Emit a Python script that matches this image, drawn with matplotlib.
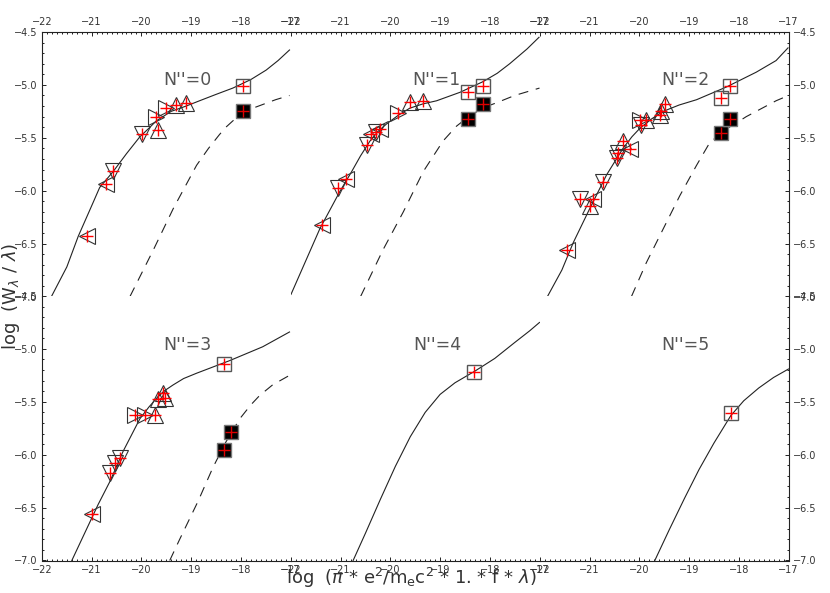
"""Curve-of-growth panels, N''=0..5, IDL-style 2x3 grid."""

import matplotlib
matplotlib.use("Agg")
import matplotlib.pyplot as plt
from matplotlib.ticker import MultipleLocator, FuncFormatter

# ---- model curves ---------------------------------------------------------
solid0_x = [-21.81, -21.50, -21.27, -20.97, -20.84, -20.57, -20.30, -20.03, -19.85, -19.70,
            -19.40, -19.10, -18.83, -18.50, -18.16, -17.80, -17.49, -17.25, -17.02]
solid0_y = [-7.00, -6.72, -6.43, -6.11, -5.97, -5.82, -5.65, -5.49, -5.41, -5.34,
            -5.25, -5.20, -5.15, -5.09, -5.03, -4.95, -4.86, -4.77, -4.67]
dash0_x = [-20.23, -19.76, -19.36, -18.89, -18.65, -18.43, -18.30, -18.16, -18.00, -17.70,
           -17.30, -17.02]
dash0_y = [-7.00, -6.56, -6.17, -5.76, -5.60, -5.47, -5.40, -5.34, -5.28, -5.21,
           -5.14, -5.10]

solid1_x = [-22.00, -21.42, -21.02, -20.78, -20.60, -20.41, -20.25, -20.08, -19.85, -19.61,
            -19.35, -19.07, -18.60, -18.14, -17.85, -17.60, -17.25, -17.01]
solid1_y = [-6.98, -6.36, -6.01, -5.82, -5.67, -5.53, -5.44, -5.37, -5.29, -5.22,
            -5.18, -5.15, -5.07, -4.97, -4.89, -4.80, -4.66, -4.55]
dash1_x = [-20.60, -20.15, -19.74, -19.34, -18.94, -18.67, -18.40, -18.10, -17.87,
           -17.50, -17.00]
dash1_y = [-7.00, -6.56, -6.20, -5.82, -5.53, -5.39, -5.29, -5.21, -5.17,
           -5.10, -5.03]

solid2_x = [-21.85, -21.56, -21.33, -21.00, -20.66, -20.33, -20.15, -19.99, -19.75, -19.52,
            -19.20, -18.85, -18.25, -17.65, -17.25, -17.01]
solid2_y = [-7.00, -6.75, -6.49, -6.17, -5.85, -5.60, -5.49, -5.41, -5.32, -5.25,
            -5.19, -5.14, -5.02, -4.88, -4.77, -4.65]
dash2_x = [-20.16, -19.86, -19.52, -19.19, -18.85, -18.59, -18.30, -18.05, -17.85, -17.65,
           -17.25, -17.05]
dash2_y = [-7.00, -6.68, -6.36, -6.05, -5.76, -5.55, -5.43, -5.36, -5.30, -5.25,
           -5.15, -5.11]

solid3_x = [-21.40, -20.87, -20.63, -20.37, -20.03, -19.85, -19.70, -19.55, -19.36, -19.15,
            -18.89, -18.22, -17.56, -17.02]
solid3_y = [-7.00, -6.47, -6.25, -5.97, -5.66, -5.55, -5.47, -5.40, -5.34, -5.28,
            -5.23, -5.11, -4.98, -4.84]
dash3_x = [-19.43, -19.23, -18.86, -18.56, -18.30, -18.02, -17.80, -17.62, -17.36, -17.02]
dash3_y = [-7.00, -6.80, -6.44, -6.12, -5.88, -5.66, -5.53, -5.44, -5.34, -5.25]

solid4_x = [-20.75, -20.50, -20.20, -19.90, -19.60, -19.30, -19.00, -18.70, -18.30,
            -17.90, -17.50, -17.20, -17.00]
solid4_y = [-7.00, -6.74, -6.42, -6.11, -5.83, -5.60, -5.43, -5.32, -5.21,
            -5.09, -4.94, -4.83, -4.75]

solid5_x = [-19.69, -19.40, -19.09, -18.80, -18.50, -18.16, -17.90, -17.60, -17.30, -17.00]
solid5_y = [-7.00, -6.71, -6.41, -6.14, -5.89, -5.63, -5.49, -5.37, -5.27, -5.19]

# ---- measured lines: x, y, symbol ('<','>','^','v' open triangles,
#      's' open square, 'S' filled square) --------------------------------
pts0_x = [-21.10, -20.71, -20.57, -19.98, -19.66, -19.71, -19.50, -19.30, -19.10, -17.96, -17.96]
pts0_y = [-6.43, -5.94, -5.815, -5.46, -5.43, -5.30, -5.22, -5.19, -5.17, -5.01, -5.25]
pts0_m = ['<', '<', 'v', 'v', '^', '>', '>', '^', '^', 's', 'S']

pts1_x = [-21.38, -21.05, -20.90, -20.48, -20.39, -20.29, -20.21, -19.85, -19.61, -19.34,
          -18.44, -18.14, -18.14, -18.44]
pts1_y = [-6.32, -5.975, -5.89, -5.57, -5.46, -5.445, -5.42, -5.27, -5.16, -5.15,
          -5.07, -5.01, -5.18, -5.32]
pts1_m = ['<', 'v', '<', 'v', '<', 'v', '<', '>', '^', '^', 's', 's', 'S', 'S']

pts2_x = [-21.46, -21.20, -21.00, -20.93, -20.73, -20.46, -20.43, -20.19, -20.32, -19.96,
          -19.99, -19.86, -19.59, -19.56, -19.49, -18.35, -18.18, -18.35, -18.18]
pts2_y = [-6.56, -6.08, -6.14, -6.08, -5.92, -5.69, -5.64, -5.61, -5.53, -5.375,
          -5.33, -5.33, -5.28, -5.25, -5.18, -5.12, -5.01, -5.455, -5.32]
pts2_m = ['<', 'v', '^', '<', 'v', 'v', 'v', '<', '^', 'v',
          '>', '^', '^', '^', '^', 's', 's', 'S', 'S']

pts3_x = [-21.00, -20.63, -20.53, -20.43, -20.13, -19.93, -19.73, -19.66, -19.56, -19.53,
          -18.33, -18.19, -18.33]
pts3_y = [-6.56, -6.17, -6.08, -6.03, -5.625, -5.625, -5.625, -5.47, -5.42, -5.46,
          -5.14, -5.79, -5.96]
pts3_m = ['<', 'v', 'v', 'v', '>', '>', '^', '^', '^', '^', 's', 'S', 'S']

pts4_x = [-18.31]
pts4_y = [-5.22]
pts4_m = ['s']

pts5_x = [-18.16]
pts5_y = [-5.61]
pts5_m = ['s']

labels = ["N''=0", "N''=1", "N''=2", "N''=3", "N''=4", "N''=5"]

solids = [(solid0_x, solid0_y), (solid1_x, solid1_y), (solid2_x, solid2_y),
          (solid3_x, solid3_y), (solid4_x, solid4_y), (solid5_x, solid5_y)]
dashes = [(dash0_x, dash0_y), (dash1_x, dash1_y), (dash2_x, dash2_y),
          (dash3_x, dash3_y), None, None]
points = [(pts0_x, pts0_y, pts0_m), (pts1_x, pts1_y, pts1_m), (pts2_x, pts2_y, pts2_m),
          (pts3_x, pts3_y, pts3_m), (pts4_x, pts4_y, pts4_m), (pts5_x, pts5_y, pts5_m)]

W, H = 830, 593
fig = plt.figure(figsize=(W / 100, H / 100), dpi=100)

col_left = [42, 291, 540]
col_w = 248.5
row_top = [32, 296]
row_h = 264.5

fmt_x = FuncFormatter(lambda v, p: "\u2212%d" % abs(round(v)))
fmt_y = FuncFormatter(lambda v, p: "\u2212%.1f" % abs(v))
tick_col = "#333333"

for i in range(6):
    r, c = divmod(i, 3)
    ax = fig.add_axes([col_left[c] / W, 1 - (row_top[r] + row_h) / H, col_w / W, row_h / H])
    ax.set_xlim(-22, -17)
    ax.set_ylim(-7.0, -4.5)

    sx, sy = solids[i]
    ax.plot(sx, sy, color="#222222", lw=0.8)
    if dashes[i] is not None:
        dx, dy = dashes[i]
        ax.plot(dx, dy, color="#222222", lw=0.8, linestyle=(0, (9, 7)))

    px, py, pm = points[i]
    for x, y, m in zip(px, py, pm):
        if m == 'S':
            ax.plot(x, y, marker='s', ms=10.5, mfc="black", mec="#777777", mew=1.0, zorder=3)
            ax.plot(x, y, marker='+', ms=9, color="#dd0000", mew=1.0, zorder=4)
        elif m == 's':
            ax.plot(x, y, marker='s', ms=10.5, mfc="none", mec="#555555", mew=1.0, zorder=3)
            ax.plot(x, y, marker='+', ms=9, color="red", mew=1.0, zorder=4)
        else:
            ax.plot(x, y, marker=m, ms=11.5, mfc="none", mec="#333333", mew=0.8, zorder=3)
            ax.plot(x, y, marker='+', ms=9, color="red", mew=1.0, zorder=4)

    ax.text(0.587, 0.82 if r == 0 else 0.815, labels[i], transform=ax.transAxes,
            ha="center", va="center", fontsize=12.5, color="#555555")

    ax.spines["left"].set_visible(c == 0)
    ax.spines["right"].set_visible(c == 2)
    ax.spines["top"].set_visible(r == 0)
    ax.spines["bottom"].set_visible(r == 1)
    for s in ax.spines.values():
        s.set_linewidth(0.8)
        s.set_color("#222222")

    ax.xaxis.set_major_locator(MultipleLocator(1))
    ax.xaxis.set_minor_locator(MultipleLocator(0.1))
    ax.yaxis.set_major_locator(MultipleLocator(0.5))
    ax.yaxis.set_minor_locator(MultipleLocator(0.1))
    ax.xaxis.set_major_formatter(fmt_x)
    ax.yaxis.set_major_formatter(fmt_y)

    for which, length in (("major", 3.2), ("minor", 1.6)):
        ax.tick_params(axis="both", which=which, direction="in", length=length,
                       width=0.7, color="#222222",
                       left=(c == 0), right=(c == 2), top=(r == 0), bottom=(r == 1),
                       labelleft=(c == 0), labelright=(c == 2),
                       labeltop=(r == 0), labelbottom=(r == 1),
                       labelsize=7, labelcolor=tick_col, pad=3.5)

fig.text(0.495, 0.026,
         r"log  ($\pi$ * e$^2$/m$_{\rm e}$c$^2$ * 1. * f * $\lambda$)",
         ha="center", va="center", fontsize=13, color="#333333")
fig.text(0.013, 0.5, r"log  (W$_\lambda$ / $\lambda$)", rotation=90,
         ha="center", va="center", fontsize=13, color="#333333")

fig.savefig("out.png", dpi=100)
